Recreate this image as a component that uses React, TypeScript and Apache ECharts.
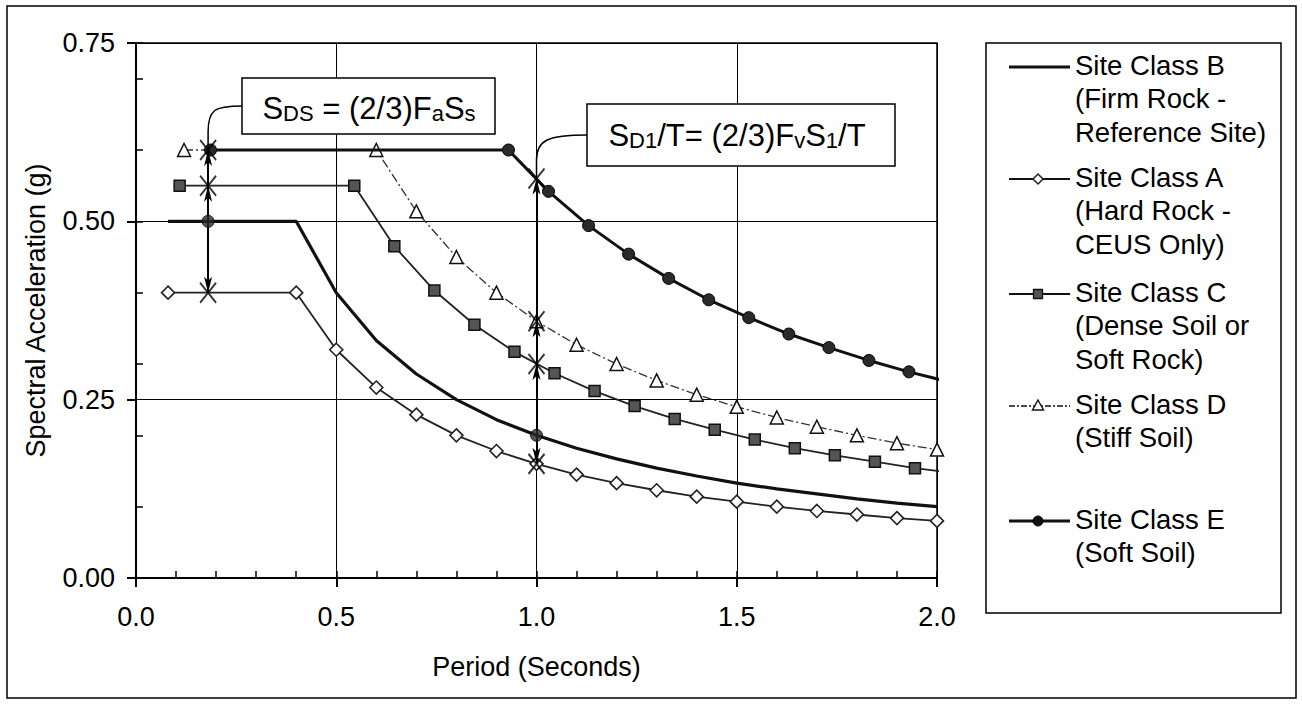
import React, { useEffect, useRef } from "react";
import * as echarts from "echarts";

const FONT = 'Arial, "Liberation Sans", Helvetica, sans-serif';

// ---- Data ----
const periodA = [0.08, 0.4, 0.5, 0.6, 0.7, 0.8, 0.9, 1.0, 1.1, 1.2, 1.3, 1.4, 1.5, 1.6, 1.7, 1.8, 1.9, 2.0];
const accelA = [0.4, 0.4, 0.32, 0.267, 0.229, 0.2, 0.178, 0.16, 0.145, 0.133, 0.123, 0.114, 0.107, 0.1, 0.094, 0.089, 0.084, 0.08];

const periodB = [0.08, 0.4, 0.5, 0.6, 0.7, 0.8, 0.9, 1.0, 1.1, 1.2, 1.3, 1.4, 1.5, 1.6, 1.7, 1.8, 1.9, 2.0];
const accelB = [0.5, 0.5, 0.4, 0.333, 0.286, 0.25, 0.222, 0.2, 0.182, 0.167, 0.154, 0.143, 0.133, 0.125, 0.118, 0.111, 0.105, 0.1];

const periodC = [0.109, 0.545, 0.645, 0.745, 0.845, 0.945, 1.045, 1.145, 1.245, 1.345, 1.445, 1.545, 1.645, 1.745, 1.845, 1.945, 2.045];
const accelC = [0.55, 0.55, 0.465, 0.403, 0.355, 0.317, 0.287, 0.262, 0.241, 0.223, 0.208, 0.194, 0.182, 0.172, 0.163, 0.154, 0.147];

const periodD = [0.12, 0.6, 0.7, 0.8, 0.9, 1.0, 1.1, 1.2, 1.3, 1.4, 1.5, 1.6, 1.7, 1.8, 1.9, 2.0];
const accelD = [0.6, 0.6, 0.514, 0.45, 0.4, 0.36, 0.327, 0.3, 0.277, 0.257, 0.24, 0.225, 0.212, 0.2, 0.189, 0.18];

const periodE = [0.186, 0.93, 1.03, 1.13, 1.23, 1.33, 1.43, 1.53, 1.63, 1.73, 1.83, 1.93, 2.03];
const accelE = [0.6, 0.6, 0.542, 0.494, 0.454, 0.42, 0.39, 0.365, 0.342, 0.323, 0.305, 0.289, 0.275];

// Annotation arrows: S_DS at short period, S_D1/T at T = 1.0 s
const sdsPeriod = 0.18;
const sdsBase = 0.5;
const sdsLevels = [0.6, 0.55, 0.4];
const sd1Period = 1.0;
const sd1Base = 0.2;
const sd1Levels = [0.56, 0.36, 0.3, 0.16];

const legendLabels = [
  ["Site Class B", "(Firm Rock -", "Reference Site)"],
  ["Site Class A", "(Hard Rock -", "CEUS Only)"],
  ["Site Class C", "(Dense Soil or", "Soft Rock)"],
  ["Site Class D", "(Stiff Soil)"],
  ["Site Class E", "(Soft Soil)"],
];

const xAxisTitle = "Period (Seconds)";
const yAxisTitle = "Spectral Acceleration (g)";

const pairs = (ts: number[], vs: number[]) => ts.map((t, i) => [t, vs[i]]);

export default function App() {
  const ref = useRef<HTMLDivElement>(null);

  useEffect(() => {
    if (!ref.current) return;
    const chart = echarts.init(ref.current, undefined, { renderer: "svg" });

    const crossData: number[][] = [
      ...sdsLevels.map((v) => [sdsPeriod, v]),
      ...sd1Levels.map((v) => [sd1Period, v]),
    ];
    const arrowLines = [
      ...sdsLevels.map((v) => [{ coord: [sdsPeriod, sdsBase] }, { coord: [sdsPeriod, v] }]),
      ...sd1Levels.map((v) => [{ coord: [sd1Period, sd1Base] }, { coord: [sd1Period, v] }]),
    ];

    const axisFont = { fontFamily: FONT, fontSize: 27, color: "#000" };

    chart.setOption({
      animation: false,
      backgroundColor: "#fff",
      grid: {
        left: 136,
        right: 365,
        top: 43,
        bottom: 126,
        show: true,
        borderColor: "#000",
        borderWidth: 1.5,
        backgroundColor: "transparent",
      },
      xAxis: [
        {
          type: "value",
          min: 0,
          max: 2,
          interval: 0.5,
          position: "bottom",
          axisLine: { lineStyle: { color: "#000", width: 2 } },
          axisTick: { inside: false, length: 9, lineStyle: { color: "#000", width: 2 } },
          axisLabel: {
            ...axisFont,
            margin: 25,
            showMaxLabel: true,
            showMinLabel: true,
            formatter: (v: number) => v.toFixed(1),
          },
          splitLine: { show: true, lineStyle: { color: "#000", width: 1 } },
          name: xAxisTitle,
          nameLocation: "middle",
          nameGap: 75,
          nameTextStyle: { fontFamily: FONT, fontSize: 27, color: "#000" },
        },
        {
          type: "value",
          min: 0,
          max: 2,
          interval: 0.1,
          position: "bottom",
          axisLine: { show: false },
          axisTick: { show: true, inside: true, length: 7, lineStyle: { color: "#000", width: 1.5 } },
          axisLabel: { show: false },
          splitLine: { show: false },
        },
      ],
      yAxis: [
        {
          type: "value",
          min: 0,
          max: 0.75,
          interval: 0.25,
          position: "left",
          axisLine: { show: true, lineStyle: { color: "#000", width: 2 } },
          axisTick: { show: true, inside: false, length: 9, lineStyle: { color: "#000", width: 2 } },
          axisLabel: {
            ...axisFont,
            margin: 21,
            showMaxLabel: true,
            formatter: (v: number) => v.toFixed(2),
          },
          splitLine: { show: true, lineStyle: { color: "#000", width: 1 } },
          name: yAxisTitle,
          nameLocation: "middle",
          nameRotate: 90,
          nameGap: 87,
          nameTextStyle: { fontFamily: FONT, fontSize: 27, color: "#000" },
        },
        {
          type: "value",
          min: 0,
          max: 0.75,
          interval: 0.1,
          position: "left",
          axisLine: { show: false },
          axisTick: { show: true, inside: true, length: 7, lineStyle: { color: "#000", width: 1.5 } },
          axisLabel: { show: false },
          splitLine: { show: false },
        },
      ],
      series: [
        {
          name: "Site Class B",
          type: "line",
          data: pairs(periodB, accelB),
          symbol: "none",
          showSymbol: false,
          lineStyle: { color: "#111", width: 3.2 },
          silent: true,
          z: 3,
        },
        {
          name: "Site Class A",
          type: "line",
          data: pairs(periodA, accelA),
          symbol: "diamond",
          symbolSize: 13,
          showAllSymbol: true,
          itemStyle: { color: "#fff", borderColor: "#222", borderWidth: 1.6 },
          lineStyle: { color: "#222", width: 1.8 },
          silent: true,
          z: 3,
        },
        {
          name: "Site Class C",
          type: "line",
          data: pairs(periodC, accelC),
          symbol: "rect",
          symbolSize: 11,
          showAllSymbol: true,
          itemStyle: { color: "#555", borderColor: "#111", borderWidth: 1.5 },
          lineStyle: { color: "#222", width: 1.8 },
          silent: true,
          z: 3,
        },
        {
          name: "Site Class D",
          type: "line",
          data: pairs(periodD, accelD),
          symbol: "triangle",
          symbolSize: 13,
          showAllSymbol: true,
          itemStyle: { color: "#fff", borderColor: "#111", borderWidth: 1.5 },
          lineStyle: { color: "#333", width: 1.3, type: [9, 3, 2, 3] },
          silent: true,
          z: 3,
        },
        {
          name: "Site Class E",
          type: "line",
          data: pairs(periodE, accelE),
          symbol: "circle",
          symbolSize: 12,
          showAllSymbol: true,
          itemStyle: { color: "#2a2a2a", borderColor: "#000", borderWidth: 1 },
          lineStyle: { color: "#111", width: 3 },
          silent: true,
          z: 4,
        },
        {
          name: "Reference points",
          type: "scatter",
          data: [
            [sdsPeriod, sdsBase],
            [sd1Period, sd1Base],
          ],
          symbol: "circle",
          symbolSize: 12,
          itemStyle: { color: "#2a2a2a", borderColor: "#000", borderWidth: 1 },
          silent: true,
          z: 5,
        },
        {
          name: "Crosses",
          type: "scatter",
          data: crossData,
          symbol: "path://M0,0L10,12M10,0L0,12",
          symbolSize: [16, 20],
          itemStyle: { color: "rgba(0,0,0,0)", borderColor: "#000", borderWidth: 2 },
          silent: true,
          z: 6,
          markLine: {
            silent: true,
            symbol: ["none", "arrow"],
            symbolSize: [6, 16],
            label: { show: false },
            lineStyle: { color: "#000", width: 2, type: "solid" },
            emphasis: { disabled: true },
            data: arrowLines,
          },
        },
      ],
    });

    // ---- Graphic overlays: frame, legend, annotation boxes ----
    const g: any[] = [];
    g.push({
      type: "rect",
      shape: { x: 7, y: 6, width: 1289, height: 692 },
      style: { fill: "none", stroke: "#000", lineWidth: 1.5 },
      silent: true,
      z: 50,
    });

    // Legend
    g.push({
      type: "rect",
      shape: { x: 986, y: 43, width: 295, height: 570 },
      style: { fill: "#fff", stroke: "#000", lineWidth: 1.5 },
      silent: true,
      z: 50,
    });
    const legendTop = [65, 177, 292, 404, 519];
    const lineStep = 33.5;
    const lx1 = 1009;
    const lx2 = 1070;
    const mx = 1038;
    const lineStyles = [
      { lineWidth: 3.2, lineDash: null },
      { lineWidth: 1.8, lineDash: null },
      { lineWidth: 1.8, lineDash: null },
      { lineWidth: 1.3, lineDash: [6, 2, 2, 2] },
      { lineWidth: 3, lineDash: null },
    ];
    legendLabels.forEach((lines, i) => {
      const y0 = legendTop[i];
      const ly = y0 + 2;
      g.push({
        type: "line",
        shape: { x1: lx1, y1: ly, x2: lx2, y2: ly },
        style: { stroke: "#111", lineWidth: lineStyles[i].lineWidth, lineDash: lineStyles[i].lineDash },
        silent: true,
        z: 51,
      });
      if (i === 1) {
        g.push({
          type: "polygon",
          shape: { points: [[mx, ly - 5], [mx + 5, ly], [mx, ly + 5], [mx - 5, ly]] },
          style: { fill: "#fff", stroke: "#222", lineWidth: 1.5 },
          silent: true,
          z: 52,
        });
      } else if (i === 2) {
        g.push({
          type: "rect",
          shape: { x: mx - 4.5, y: ly - 4.5, width: 9, height: 9 },
          style: { fill: "#555", stroke: "#111", lineWidth: 1.3 },
          silent: true,
          z: 52,
        });
      } else if (i === 3) {
        g.push({
          type: "polygon",
          shape: { points: [[mx, ly - 6], [mx + 5.5, ly + 4], [mx - 5.5, ly + 4]] },
          style: { fill: "#fff", stroke: "#111", lineWidth: 1.4 },
          silent: true,
          z: 52,
        });
      } else if (i === 4) {
        g.push({
          type: "circle",
          shape: { cx: mx, cy: ly, r: 5 },
          style: { fill: "#111", stroke: "#000", lineWidth: 1 },
          silent: true,
          z: 52,
        });
      }
      lines.forEach((txt, j) => {
        g.push({
          type: "text",
          x: 1075,
          y: y0 + j * lineStep,
          style: {
            text: txt,
            fontFamily: FONT,
            fontSize: 27.5,
            fill: "#000",
            align: "left",
            verticalAlign: "middle",
          },
          silent: true,
          z: 52,
        });
      });
    });

    // Annotation boxes
    const mainStyle = { fontFamily: FONT, fontSize: 31, fill: "#000", lineHeight: 34, verticalAlign: "bottom" };
    const subStyle = { fontFamily: FONT, fontSize: 22, fill: "#000", lineHeight: 24, verticalAlign: "bottom" };

    const p1 = chart.convertToPixel({ gridIndex: 0 }, [sdsPeriod, sdsLevels[0]]) as number[];
    const p2 = chart.convertToPixel({ gridIndex: 0 }, [sd1Period, sd1Levels[0]]) as number[];

    // Box 1
    g.push({
      type: "rect",
      shape: { x: 242, y: 78, width: 253, height: 56 },
      style: { fill: "#fff", stroke: "#000", lineWidth: 1.5 },
      silent: true,
      z: 60,
    });
    g.push({
      type: "text",
      x: 369,
      y: 107,
      style: {
        text: "{m|S}{s|DS}{m| = (2/3)F}{s|a}{m|S}{s|s}",
        align: "center",
        verticalAlign: "middle",
        rich: { m: mainStyle, s: subStyle },
      },
      silent: true,
      z: 61,
    });
    g.push({
      type: "bezierCurve",
      shape: { x1: 242, y1: 106, cpx1: 214, cpy1: 106, cpx2: p1[0], cpy2: 110, x2: p1[0], y2: 132 },
      style: { stroke: "#000", lineWidth: 1.5, fill: "none" },
      silent: true,
      z: 60,
    });
    g.push({
      type: "line",
      shape: { x1: p1[0], y1: 132, x2: p1[0], y2: p1[1] },
      style: { stroke: "#000", lineWidth: 1.5 },
      silent: true,
      z: 60,
    });

    // Box 2
    g.push({
      type: "rect",
      shape: { x: 587, y: 104, width: 308, height: 62 },
      style: { fill: "#fff", stroke: "#000", lineWidth: 1.5 },
      silent: true,
      z: 60,
    });
    g.push({
      type: "text",
      x: 737,
      y: 134,
      style: {
        text: "{m|S}{s|D1}{m|/T= (2/3)F}{s|v}{m|S}{s|1}{m|/T}",
        align: "center",
        verticalAlign: "middle",
        rich: { m: mainStyle, s: subStyle },
      },
      silent: true,
      z: 61,
    });
    g.push({
      type: "bezierCurve",
      shape: { x1: 587, y1: 135, cpx1: 548, cpy1: 135, cpx2: p2[0], cpy2: 140, x2: p2[0], y2: 160 },
      style: { stroke: "#000", lineWidth: 1.5, fill: "none" },
      silent: true,
      z: 60,
    });
    g.push({
      type: "line",
      shape: { x1: p2[0], y1: 160, x2: p2[0], y2: p2[1] },
      style: { stroke: "#000", lineWidth: 1.5 },
      silent: true,
      z: 60,
    });

    chart.setOption({ graphic: g });

    return () => {
      chart.dispose();
    };
  }, []);

  return (
    <div
      ref={ref}
      style={{ position: "absolute", left: 0, top: 0, width: 1302, height: 704, background: "#fff" }}
    />
  );
}
